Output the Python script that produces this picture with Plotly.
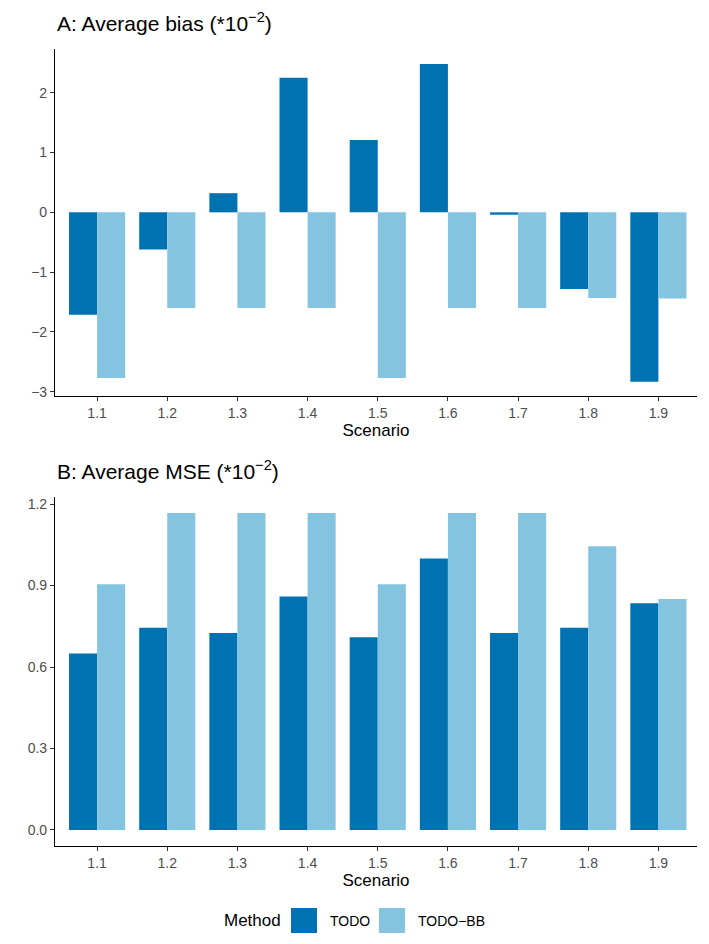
import plotly.graph_objects as go
from plotly.subplots import make_subplots

scenarios = ["1.1", "1.2", "1.3", "1.4", "1.5", "1.6", "1.7", "1.8", "1.9"]
bias_todo = [-1.71, -0.62, 0.32, 2.25, 1.21, 2.48, -0.04, -1.28, -2.83]
bias_todo_bb = [-2.77, -1.60, -1.60, -1.60, -2.77, -1.60, -1.60, -1.43, -1.44]
mse_todo = [0.65, 0.745, 0.725, 0.86, 0.71, 1.00, 0.725, 0.745, 0.835]
mse_todo_bb = [0.905, 1.167, 1.167, 1.167, 0.905, 1.167, 1.167, 1.045, 0.85]
bias_ticks = [-3, -2, -1, 0, 1, 2]
mse_ticks = [0.0, 0.3, 0.6, 0.9, 1.2]
methods = ["TODO", "TODO\u2212BB"]

C_TODO = "#0072B2"
C_BB = "#85C4E0"
colors = [C_TODO, C_BB]
FONT = "Liberation Sans, Arial, sans-serif"

fig = make_subplots(rows=2, cols=1, vertical_spacing=0.0)

fig.add_trace(go.Bar(x=scenarios, y=bias_todo, name=methods[0], marker_color=C_TODO,
                     marker_line_width=0), row=1, col=1)
fig.add_trace(go.Bar(x=scenarios, y=bias_todo_bb, name=methods[1], marker_color=C_BB,
                     marker_line_width=0), row=1, col=1)
fig.add_trace(go.Bar(x=scenarios, y=mse_todo, name=methods[0], marker_color=C_TODO,
                     marker_line_width=0), row=2, col=1)
fig.add_trace(go.Bar(x=scenarios, y=mse_todo_bb, name=methods[1], marker_color=C_BB,
                     marker_line_width=0), row=2, col=1)

# plot area in pixels: x 55..697, y 49..846
PX_L, PX_R, PX_T, PX_B = 55, 697, 49, 846
W = PX_R - PX_L
H = float(PX_B - PX_T)


def px(x):
    return (x - PX_L) / W


def py(y):
    return (PX_B - y) / H


domA = [py(396), 1.0]
domB = [0.0, py(497)]

axis_common = dict(showline=True, linecolor="black", linewidth=1.1, ticks="outside",
                   ticklen=4, tickcolor="#333333", tickwidth=1.1, showgrid=False, zeroline=False,
                   tickfont=dict(family=FONT, size=14, color="#4D4D4D"))

fig.update_xaxes(type="category", range=[-0.6, 8.55], **axis_common,
                 title=dict(text="Scenario", font=dict(family=FONT, size=17, color="black"), standoff=1))
fig.update_yaxes(**axis_common)
fig.update_yaxes(range=[-3.07, 2.73], tickvals=bias_ticks,
                 ticktext=[str(t).replace("-", "\u2212") for t in bias_ticks],
                 domain=domA, row=1, col=1)
fig.update_yaxes(range=[-0.059, 1.226], tickvals=mse_ticks, ticktext=["%.1f" % t for t in mse_ticks],
                 domain=domB, row=2, col=1)

fig.add_annotation(text="A: Average bias (*10<sup>\u22122</sup>)", xref="paper", yref="paper",
                   x=0.0, y=1.0, yshift=12, xanchor="left", yanchor="bottom", showarrow=False,
                   font=dict(family=FONT, size=21, color="black"))
fig.add_annotation(text="B: Average MSE (*10<sup>\u22122</sup>)", xref="paper", yref="paper",
                   x=0.0, y=domB[1], yshift=12, xanchor="left", yanchor="bottom", showarrow=False,
                   font=dict(family=FONT, size=21, color="black"))

# custom legend (ggplot-style, large keys)
LEG_Y = 920.5
fig.add_annotation(text="Method", xref="paper", yref="paper", x=px(222), y=py(LEG_Y),
                   xanchor="left", yanchor="middle", showarrow=False,
                   font=dict(family=FONT, size=17, color="black"))
box_lefts = [291, 379]
for m, c, bl in zip(methods, colors, box_lefts):
    fig.add_shape(type="rect", xref="paper", yref="paper",
                  x0=px(bl), x1=px(bl + 26), y0=py(LEG_Y + 12.5), y1=py(LEG_Y - 12.5),
                  fillcolor=c, line_width=0)
    fig.add_annotation(text=m, xref="paper", yref="paper", x=px(bl + 37), y=py(LEG_Y),
                       xanchor="left", yanchor="middle", showarrow=False,
                       font=dict(family=FONT, size=14, color="black"))

fig.update_layout(
    width=709, height=944,
    margin=dict(l=PX_L, r=709 - PX_R, t=PX_T, b=944 - PX_B),
    paper_bgcolor="white", plot_bgcolor="white",
    barmode="group", bargap=0.2, bargroupgap=0.0,
    font=dict(family=FONT, color="black"),
    showlegend=False,
)

fig.write_html("out.html")
